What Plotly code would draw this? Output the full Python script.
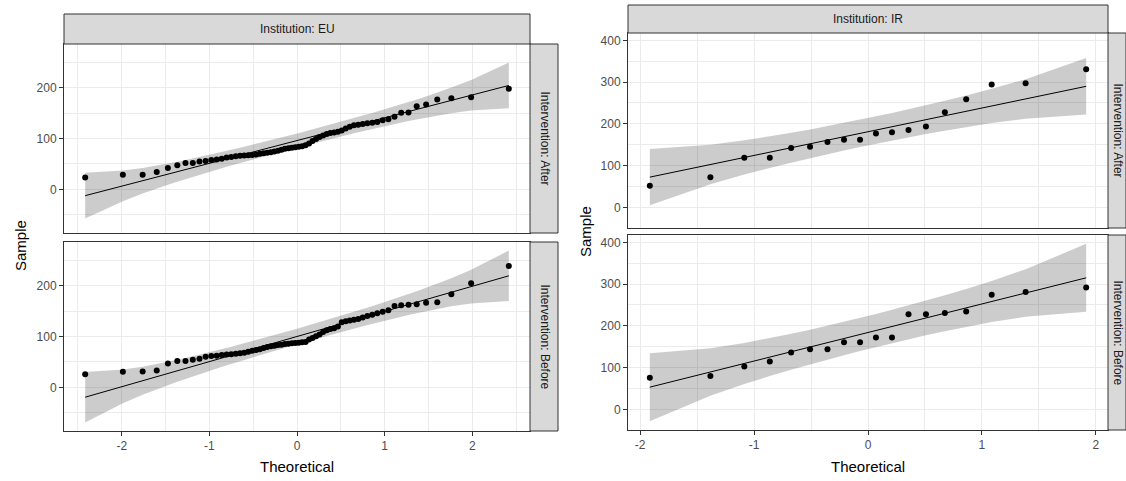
import numpy as np
import plotly.graph_objects as go
from statistics import NormalDist

# ---- sample values (sorted) ----
eu_after = [23.5, 28.9, 28.9, 34, 42, 47.4, 52, 52, 54.7, 56, 58, 58.5, 60, 62.5, 63.5, 65,
            66, 66.5, 67, 67.5, 68.5, 70, 71, 72, 73, 74.5, 76, 78, 80, 81, 82, 83,
            84, 85, 87, 90, 95, 99, 103, 106, 109, 111, 112, 113.5, 116, 119.5, 123, 126,
            127, 128.5, 130, 131, 132.5, 136, 138, 143, 150.5, 151, 163.6, 166.9, 176.8, 179.4, 181.4, 198]
eu_before = [26, 30.7, 31.3, 33.3, 47, 52, 52, 54.5, 56.4, 60, 61.7, 62, 63.7, 64.5, 65.3, 66,
             67, 68.3, 70, 72, 73.6, 75, 77.6, 79.5, 80.8, 82, 83.5, 84, 85.5, 86, 86.7, 87.5,
             88, 88.6, 89.4, 94, 97.3, 100.6, 104, 109, 112.5, 115, 116.5, 119.8, 128, 130, 131.5, 133,
             134.5, 137.5, 140.5, 143, 146, 149, 151.5, 160, 161.4, 162.7, 163.4, 166.7, 167.5, 183, 205, 239]
ir_after = [52, 72, 119, 119, 142, 145.5, 156.6, 162, 162, 177, 180, 185.5, 194, 228,
            258.8, 294, 297, 331]
ir_before = [76, 80, 103, 114.5, 136, 144, 144, 161, 161, 172, 172, 228, 228, 231,
             234.5, 274.5, 281, 292]

institutions = ["EU", "IR"]
interventions = ["After", "Before"]
x_ticks = [-2, -1, 0, 1, 2]
x_tick_labels = ["-2", "-1", "0", "1", "2"]
eu_y_ticks = [0, 100, 200]
ir_y_ticks = [0, 100, 200, 300, 400]

nd = NormalDist()


def qq(sample, conf=0.95):
    s = np.sort(np.asarray(sample, float))
    n = len(s)
    a = 3 / 8 if n <= 10 else 0.5
    p = (np.arange(1, n + 1) - a) / (n + 1 - 2 * a)
    z = np.array([nd.inv_cdf(v) for v in p])
    q1, q3 = np.quantile(s, [0.25, 0.75])
    z1, z3 = nd.inv_cdf(0.25), nd.inv_cdf(0.75)
    slope = (q3 - q1) / (z3 - z1)
    inter = q1 - slope * z1
    fit = inter + slope * z
    dens = np.array([nd.pdf(v) for v in z])
    se = slope / dens * np.sqrt(p * (1 - p) / n)
    zc = nd.inv_cdf(1 - (1 - conf) / 2)
    return z, s, fit, fit + zc * se, fit - zc * se


W, H = 1126, 481


def px(x):
    return x / W


def py(y):
    return 1 - y / H


def expand(vals, mult=0.05):
    lo, hi = float(np.min(vals)), float(np.max(vals))
    d = (hi - lo) * mult
    return [lo - d, hi + d]


# panel geometry (pixels)
geo = {
    "EU": dict(x0=64, x1=530, strip_top=(14, 44), facets=[(44, 233), (242, 431)], sx1=558,
               ylab_x=20, ylab_y=246, xlab_y=466),
    "IR": dict(x0=628, x1=1108, strip_top=(5, 33), facets=[(33, 228), (235, 430)], sx1=1126,
               ylab_x=585, ylab_y=232, xlab_y=466),
}
data = {("EU", "After"): eu_after, ("EU", "Before"): eu_before,
        ("IR", "After"): ir_after, ("IR", "Before"): ir_before}
yticks = {"EU": eu_y_ticks, "IR": ir_y_ticks}

fig = go.Figure()
layout = dict(width=W, height=H, margin=dict(l=0, r=0, t=0, b=0),
              plot_bgcolor="white", paper_bgcolor="white", showlegend=False,
              font=dict(family="Liberation Sans, Arial, sans-serif"))
shapes = []
annotations = []

GRID = "#EBEBEB"
BORDER = "#333333"
STRIP = "#D9D9D9"

k = 0
for inst in institutions:
    g = geo[inst]
    res = {iv: qq(data[(inst, iv)]) for iv in interventions}
    xr = expand(np.concatenate([res[iv][0] for iv in interventions]))
    yr = expand(np.concatenate([np.concatenate([res[iv][1], res[iv][3], res[iv][4]]) for iv in interventions]))
    for j, iv in enumerate(interventions):
        k += 1
        xa = "x" if k == 1 else f"x{k}"
        ya = "y" if k == 1 else f"y{k}"
        z, s, fit, up, lo = res[iv]
        fig.add_trace(go.Scatter(x=np.concatenate([z, z[::-1]]), y=np.concatenate([up, lo[::-1]]),
                                 fill="toself", fillcolor="rgba(0,0,0,0.2)", mode="lines",
                                 line=dict(width=0), hoverinfo="skip", xaxis=xa, yaxis=ya))
        fig.add_trace(go.Scatter(x=z, y=fit, mode="lines", line=dict(color="black", width=1),
                                 xaxis=xa, yaxis=ya))
        fig.add_trace(go.Scatter(x=z, y=s, mode="markers", marker=dict(color="black", size=6),
                                 xaxis=xa, yaxis=ya))
        fy0, fy1 = g["facets"][j]
        bottom = j == len(interventions) - 1
        xkey = "xaxis" if k == 1 else f"xaxis{k}"
        ykey = "yaxis" if k == 1 else f"yaxis{k}"
        layout[xkey] = dict(domain=[px(g["x0"]), px(g["x1"])], anchor=ya, range=xr,
                            tickvals=x_ticks, ticktext=x_tick_labels, showticklabels=bottom,
                            ticks="outside" if bottom else "", ticklen=4, tickcolor=BORDER,
                            tickfont=dict(size=12, color="#4D4D4D"),
                            showgrid=True, gridcolor=GRID, gridwidth=1, zeroline=False,
                            minor=dict(dtick=0.5, showgrid=True, gridcolor=GRID, gridwidth=0.5),
                            showline=True, mirror=True, linecolor=BORDER, linewidth=1)
        layout[ykey] = dict(domain=[py(fy1), py(fy0)], anchor=xa, range=yr,
                            tickvals=yticks[inst], ticks="outside", ticklen=4, tickcolor=BORDER,
                            tickfont=dict(size=12, color="#4D4D4D"),
                            showgrid=True, gridcolor=GRID, gridwidth=1, zeroline=False,
                            minor=dict(dtick=50, showgrid=True, gridcolor=GRID, gridwidth=0.5),
                            showline=True, mirror=True, linecolor=BORDER, linewidth=1)
        # right strip
        shapes.append(dict(type="rect", xref="paper", yref="paper",
                           x0=px(g["x1"]), x1=px(g["sx1"]), y0=py(fy1), y1=py(fy0),
                           fillcolor=STRIP, line=dict(color=BORDER, width=1)))
        annotations.append(dict(text=f"Intervention: {iv}", xref="paper", yref="paper",
                                x=px((g["x1"] + g["sx1"]) / 2 + 1), y=py((fy0 + fy1) / 2),
                                xanchor="center", yanchor="middle",
                                textangle=90, showarrow=False,
                                font=dict(size=12, color="#1A1A1A")))
    # top strip
    st0, st1 = g["strip_top"]
    shapes.append(dict(type="rect", xref="paper", yref="paper",
                       x0=px(g["x0"]), x1=px(g["x1"]), y0=py(st1), y1=py(st0),
                       fillcolor=STRIP, line=dict(color=BORDER, width=1)))
    annotations.append(dict(text=f"Institution: {inst}", xref="paper", yref="paper",
                            x=px((g["x0"] + g["x1"]) / 2), y=py((st0 + st1) / 2),
                            xanchor="center", yanchor="middle", showarrow=False,
                            font=dict(size=12, color="#1A1A1A")))
    # axis titles
    annotations.append(dict(text="Sample", xref="paper", yref="paper", x=px(g["ylab_x"]),
                            y=py(g["ylab_y"]), xanchor="center", yanchor="middle",
                            textangle=-90, showarrow=False,
                            font=dict(size=15, color="black")))
    annotations.append(dict(text="Theoretical", xref="paper", yref="paper",
                            x=px((g["x0"] + g["x1"]) / 2), y=py(g["xlab_y"]),
                            xanchor="center", yanchor="middle", showarrow=False,
                            font=dict(size=15, color="black")))

layout["shapes"] = shapes
layout["annotations"] = annotations
fig.update_layout(**layout)
fig.write_html("out.html", config={"displayModeBar": False},
               post_script="document.body.style.margin='0';document.body.style.overflow='hidden';")
